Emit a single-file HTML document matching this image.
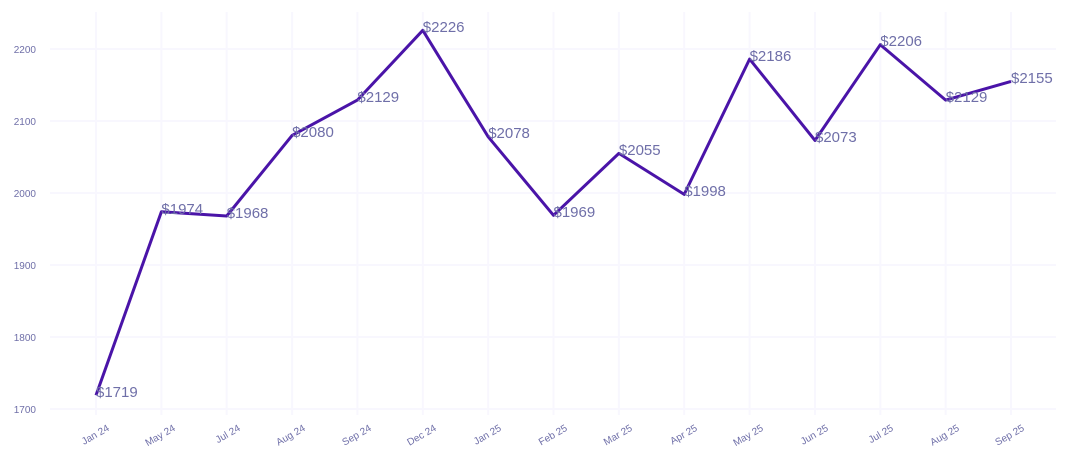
<!DOCTYPE html>
<html><head><meta charset="utf-8"><style>
html,body{margin:0;padding:0;background:#fff;}
svg{display:block;font-family:"Liberation Sans",sans-serif;}
</style></head><body>
<svg width="1070" height="465" viewBox="0 0 1070 465">
<g stroke="#f8f7fe" stroke-width="2">
<line x1="50" x2="1056" y1="409" y2="409"/><line x1="50" x2="1056" y1="337" y2="337"/>
<line x1="50" x2="1056" y1="265" y2="265"/><line x1="50" x2="1056" y1="193" y2="193"/>
<line x1="50" x2="1056" y1="121" y2="121"/><line x1="50" x2="1056" y1="49" y2="49"/>
<line x1="96" x2="96" y1="12" y2="415"/><line x1="161.4" x2="161.4" y1="12" y2="415"/>
<line x1="226.7" x2="226.7" y1="12" y2="415"/><line x1="292.1" x2="292.1" y1="12" y2="415"/>
<line x1="357.4" x2="357.4" y1="12" y2="415"/><line x1="422.8" x2="422.8" y1="12" y2="415"/>
<line x1="488.2" x2="488.2" y1="12" y2="415"/><line x1="553.5" x2="553.5" y1="12" y2="415"/>
<line x1="618.9" x2="618.9" y1="12" y2="415"/><line x1="684.2" x2="684.2" y1="12" y2="415"/>
<line x1="749.6" x2="749.6" y1="12" y2="415"/><line x1="815" x2="815" y1="12" y2="415"/>
<line x1="880.3" x2="880.3" y1="12" y2="415"/><line x1="945.7" x2="945.7" y1="12" y2="415"/>
<line x1="1011" x2="1011" y1="12" y2="415"/>
</g>
<g fill="#6f6fa8" font-size="10" text-anchor="end">
<text x="36" y="413">1700</text><text x="36" y="341">1800</text><text x="36" y="269">1900</text>
<text x="36" y="197">2000</text><text x="36" y="125">2100</text><text x="36" y="53">2200</text>
</g>
<g fill="#6f6fa8" font-size="10" text-anchor="end">
<text transform="translate(110,430) rotate(-30)">Jan 24</text>
<text transform="translate(176,430) rotate(-30)">May 24</text>
<text transform="translate(241,430) rotate(-30)">Jul 24</text>
<text transform="translate(306,430) rotate(-30)">Aug 24</text>
<text transform="translate(372,430) rotate(-30)">Sep 24</text>
<text transform="translate(437,430) rotate(-30)">Dec 24</text>
<text transform="translate(502,430) rotate(-30)">Jan 25</text>
<text transform="translate(568,430) rotate(-30)">Feb 25</text>
<text transform="translate(633,430) rotate(-30)">Mar 25</text>
<text transform="translate(698,430) rotate(-30)">Apr 25</text>
<text transform="translate(764,430) rotate(-30)">May 25</text>
<text transform="translate(829,430) rotate(-30)">Jun 25</text>
<text transform="translate(894,430) rotate(-30)">Jul 25</text>
<text transform="translate(960,430) rotate(-30)">Aug 25</text>
<text transform="translate(1025,430) rotate(-30)">Sep 25</text>
</g>
<polyline fill="none" stroke="#4a14a8" stroke-width="3" stroke-linejoin="round" points="96,395.3 161.4,211.7 226.7,216 292.1,135.4 357.4,100.1 422.8,30.3 488.2,136.8 553.5,215.3 618.9,153.4 684.2,194.4 749.6,59.1 815,140.4 880.3,44.7 945.7,100.1 1011,81.4"/>
<g fill="#6f6fa8" font-size="15">
<text x="96" y="397">$1719</text><text x="161.4" y="214">$1974</text><text x="226.7" y="218">$1968</text>
<text x="292.1" y="137">$2080</text><text x="357.4" y="102">$2129</text><text x="422.8" y="32">$2226</text>
<text x="488.2" y="138">$2078</text><text x="553.5" y="217">$1969</text><text x="618.9" y="155">$2055</text>
<text x="684.2" y="196">$1998</text><text x="749.6" y="61">$2186</text><text x="815" y="142">$2073</text>
<text x="880.3" y="46">$2206</text><text x="945.7" y="102">$2129</text><text x="1011" y="83">$2155</text>
</g>
</svg>
</body></html>
